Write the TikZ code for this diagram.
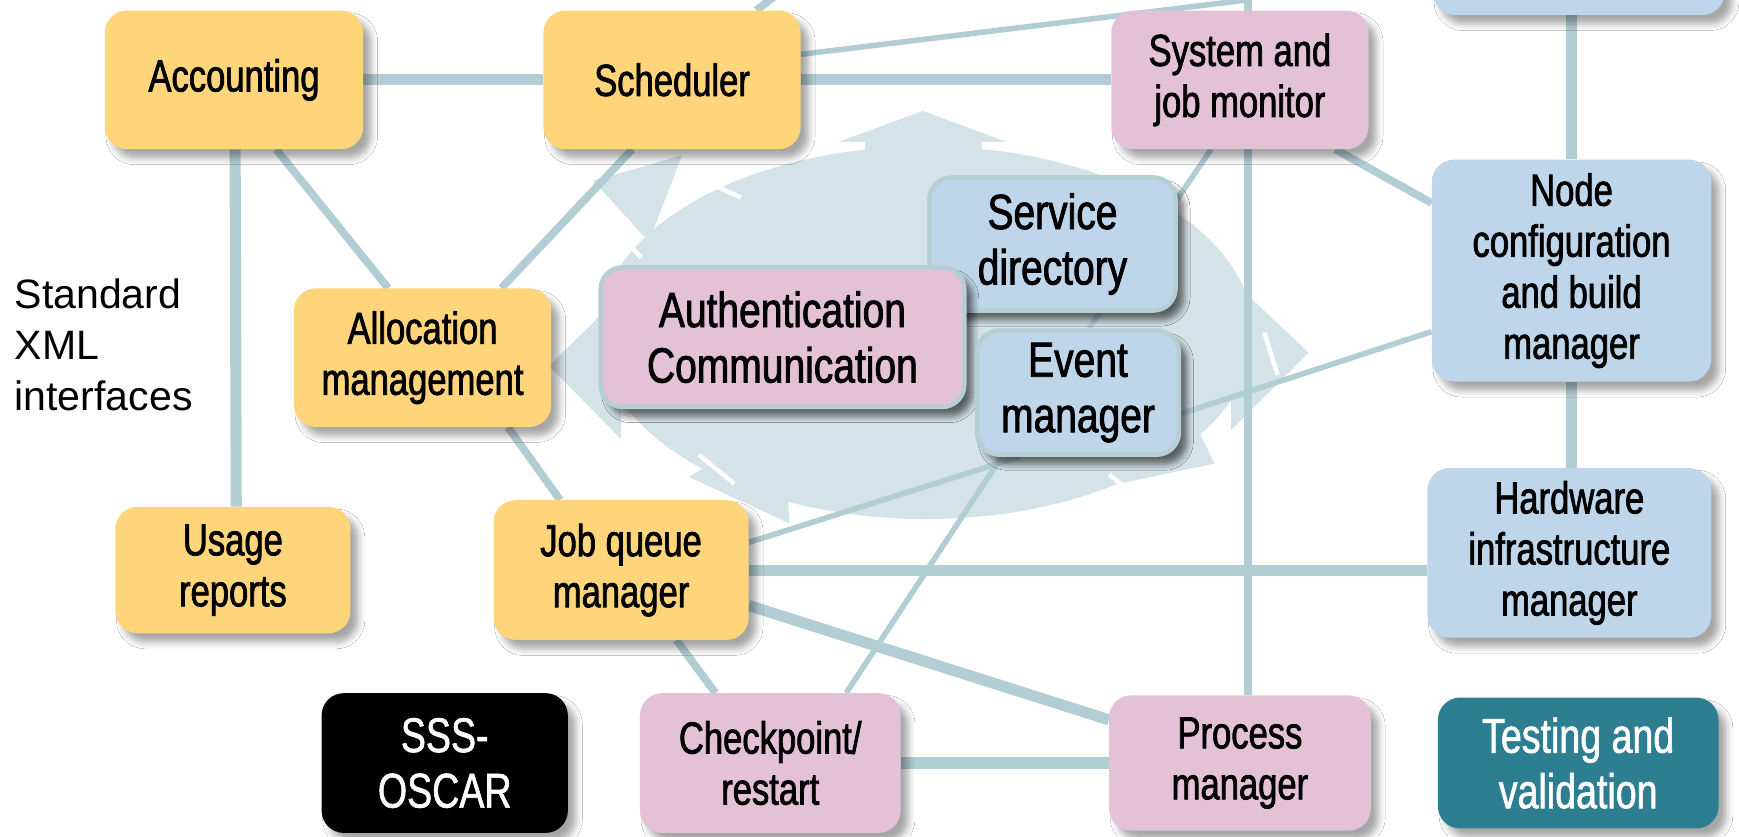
\documentclass[tikz,border=0pt]{standalone}
\usepackage{fontspec}
\usetikzlibrary{calc,shadows.blur}
\newfontfamily\plainsans{Liberation Sans}
\newfontfamily\condsans[FakeStretch=0.77,FakeBold=1.6]{Liberation Sans}
\newfontfamily\condsanswide[FakeStretch=0.79,FakeBold=1.6]{Liberation Sans}
\newfontfamily\condsanswhite[FakeStretch=0.77,FakeBold=1.2]{Liberation Sans}
\newcommand\txtnorm{\condsans\fontsize{40.5}{46}\selectfont}
\newcommand\txtlarge{\condsanswide\fontsize{44.5}{50}\selectfont}
\newcommand\txtwhite{\condsanswhite\fontsize{44}{50}\selectfont}
\definecolor{cline}{HTML}{B3CDD5}
\definecolor{cblob}{HTML}{D4E3E7}
\definecolor{cyel}{HTML}{FED57A}
\definecolor{cpink}{HTML}{E4C2D6}
\definecolor{cblue}{HTML}{BFD5E9}
\definecolor{cteal}{HTML}{2E7E92}
\definecolor{cbord}{HTML}{B6CFD5}
\pgfdeclarelayer{links}
\pgfsetlayers{links,main}
\tikzset{
  box/.style={rounded corners=20pt, align=center, inner sep=0pt,
    font=\txtnorm,
    blur shadow={shadow xshift=7pt, shadow yshift=-8pt,
      shadow blur radius=6pt, shadow opacity=35}},
  ybox/.style={box, fill=cyel},
  pbox/.style={box, fill=cpink},
  bbox/.style={box, fill=cblue},
  cbox/.style={box, font=\txtlarge, draw=cbord, line width=4pt},
  wbox/.style={box, font=\txtwhite, text=white},
  link/.style={draw=cline, line width=7pt},
  thicklink/.style={draw=cline, line width=10pt},
  thinlink/.style={draw=cline, line width=5pt},
  notch/.style={draw=white, line width=4pt},
}
\begin{document}
\begin{tikzpicture}[x=1pt,y=-1pt]
\useasboundingbox (0,0) rectangle (1568,754);
\clip (0,0) rectangle (1568,754);

% components
\node[ybox, minimum width=233pt, minimum height=125pt] (acc) at (211,72) {Accounting};
\node[ybox, minimum width=232pt, minimum height=125pt] (sched) at (606,72) {Scheduler};
\node[pbox, minimum width=232pt, minimum height=125pt] (sysmon) at (1118,72) {System and\\job monitor};
\node[bbox, minimum width=263pt, minimum height=127pt] (meta) at (1423.5,-50) {};
\node[ybox, minimum width=232pt, minimum height=125pt] (alloc) at (381,322.5) {Allocation\\management};
\node[bbox, cbox, minimum width=222pt, minimum height=120pt] (servdir) at (949,220) {Service\\directory};
\node[pbox, cbox, minimum width=328pt, minimum height=126pt] (auth) at (705.5,304) {Authentication\\Communication};
\node[bbox, cbox, minimum width=182pt, minimum height=112pt] (event) at (972,354) {Event\\manager};
\node[bbox, minimum width=252pt, minimum height=200pt] (nodecfg) at (1417,244) {Node\\configuration\\and build\\manager};
\node[bbox, minimum width=256pt, minimum height=153pt] (hw) at (1415,498.5) {Hardware\\infrastructure\\manager};
\node[ybox, minimum width=212pt, minimum height=114pt] (usage) at (210,514) {Usage\\reports};
\node[ybox, minimum width=230pt, minimum height=126pt] (jobq) at (560,514) {Job queue\\manager};
\node[wbox, fill=black, minimum width=222pt, minimum height=126pt] (sss) at (401,688) {SSS-\\OSCAR};
\node[pbox, minimum width=235pt, minimum height=126pt] (ckpt) at (694.5,688) {Checkpoint/\\restart};
\node[pbox, minimum width=236pt, minimum height=122pt] (proc) at (1118,688) {Process\\manager};
\node[wbox, fill=cteal, minimum width=253pt, minimum height=118pt] (test) at (1423,688) {Testing and\\validation};

\node[anchor=west, align=left, inner sep=0pt,
      font=\plainsans\fontsize{37}{46}\selectfont] (xml) at (13,311)
  {Standard\\XML\\interfaces};

% free ends of the links that leave the top edge
\coordinate (topA) at (1124,0);
\coordinate (topV) at (1125,-10);
\coordinate (topB) at (707,-10);

\begin{pgfonlayer}{links}
  \fill[white] (0,0) rectangle (1568,754);
  % pale swirl of arrows behind the core services
  \begin{scope}[fill=cblob]
    \fill (835,300) ellipse [x radius=295, y radius=168];
    \fill (832,100) -- (908,128) -- (885,128) -- (885,152) -- (780,152)
          -- (780,128) -- (756,128) -- cycle;
    \fill (495,330) -- (560,266) -- (560,396) -- cycle;
    \fill (1180,318) -- (1110,252) -- (1110,388) -- cycle;
    \fill (621,430) -- (705,380) -- (712,472) -- cycle;
    \fill (1000,438) -- (1068,362) -- (1095,418) -- cycle;
    \fill (535,163) -- (615,140) -- (585,218) -- cycle;
  \end{scope}
  \draw[notch] (628,160) -- (668,178);
  \draw[notch] (552,205) -- (578,232);
  \draw[notch] (1102,205) -- (1118,245);
  \draw[notch] (630,410) -- (662,436);
  \draw[notch] (1000,428) -- (1028,450);
  \draw[notch] (1140,300) -- (1152,338);

  % connectors, drawn behind the boxes
  \draw[thicklink] (acc.east) -- (sched.west);
  \draw[thicklink] (sched.east) -- (sysmon.west);
  \draw[thinlink] ($(sched.east)+(0,-23)$) -- (topA);
  \draw[link] ($(sched.north)+(76,0)$) -- (topB);
  \draw[link] (topV) -- ($(proc.north)+(7,0)$);
  \draw[thicklink] ($(acc.south)+(1,0)$) -- ($(usage.north)+(3,0)$);
  \draw[link] ($(acc.south)+(38,0)$) -- ($(alloc.north)+(-31,0)$);
  \draw[link] ($(sched.south)+(-36,0)$) -- ($(alloc.north)+(71,0)$);
  \draw[link] ($(alloc.south)+(77,0)$) -- ($(jobq.north)+(-55,0)$);
  \draw[thinlink] ($(jobq.east)+(0,-25)$) -- ($(event.south)+(-53,0)$);
  \draw[thicklink] (jobq.east) -- (jobq.east -| hw.west);
  \draw[thicklink] ($(jobq.east)+(0,32)$) -- ($(proc.west)+(0,-39)$);
  \draw[link] ($(jobq.south)+(50,0)$) -- ($(ckpt.north)+(-49.5,0)$);
  \draw[thinlink] ($(ckpt.north)+(68.5,0)$) -- ($(event.south)+(-69,0)$);
  \draw[thicklink] (ckpt.east) -- (proc.west);
  \draw[thinlink] ($(sysmon.south)+(-26,0)$) -- ($(event.north)+(10,0)$);
  \draw[link] ($(sysmon.south)+(86,0)$) -- ($(nodecfg.west)+(0,-61)$);
  \draw[thinlink] ($(event.east)+(0,19)$) -- ($(nodecfg.west)+(0,55)$);
  \draw[thicklink] (nodecfg.north) -- (nodecfg.north |- meta.south);
  \draw[thicklink] (nodecfg.south) -- (nodecfg.south |- hw.north);
\end{pgfonlayer}
\end{tikzpicture}
\end{document}
